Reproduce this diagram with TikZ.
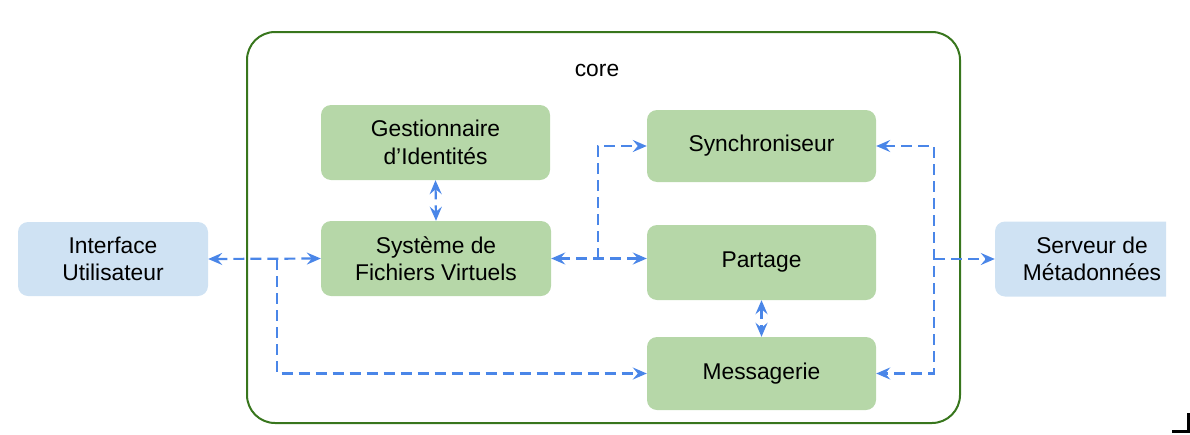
\documentclass[tikz,border=0pt]{standalone}
\usepackage{fontspec}
\setmainfont{Liberation Sans}
\usetikzlibrary{arrows.meta}
\definecolor{boxgreen}{HTML}{B6D7A8}
\definecolor{boxblue}{HTML}{CFE2F3}
\definecolor{coregreen}{HTML}{38761D}
\definecolor{linkblue}{HTML}{4A86E8}
\begin{document}
\begin{tikzpicture}[x=1pt,y=-1pt,
  comp/.style={rectangle, rounded corners=10pt, fill=boxgreen, minimum width=229pt, minimum height=75pt, align=center, font=\fontsize{22.8}{27.5}\selectfont, inner sep=0pt},
  ext/.style={comp, fill=boxblue, minimum width=192pt},
  conn/.style={draw=linkblue, line width=2.2pt, dash pattern=on 11pt off 6pt, >={Stealth[length=14pt,width=12pt,inset=5pt]}},
  lbl/.style={font=\fontsize{22.8}{27.5}\selectfont, inner sep=0pt}
]
\useasboundingbox (0,0) rectangle (1190,434);
% core container
\draw[coregreen, line width=2pt, rounded corners=28pt] (247,32) rectangle (960,423);
\node[lbl] (core) at (597,70) {core};
% external nodes
\node[ext, minimum width=190pt, minimum height=74pt] (ui) at (113,259) {Interface\\Utilisateur};
\begin{scope}
\clip (0,0) rectangle (1166,434);
\node[ext, minimum width=194pt] (srv) at (1092,259) {Serveur de\\Métadonnées};
\end{scope}
% core components
\node[comp] (gest) at (435.5,142.5) {Gestionnaire\\d’Identités};
\node[comp, minimum width=230pt] (sfv) at (436,258.5) {Système de\\Fichiers Virtuels};
\node[comp, minimum height=72pt] (sync) at (761.5,146) {Synchroniseur};
\node[comp] (part) at (761.5,262.5) {Partage};
\node[comp, minimum height=73pt] (msg) at (761.5,373.5) {Messagerie};
% junction coordinates
\coordinate (jl) at (277,259);
\coordinate (jm) at (598,259);
\coordinate (jr) at (934,259);
% connectors
\draw[conn, <->] (ui.east) -- (sfv.west);
\draw[conn, ->] (jl) |- (msg.west);
\draw[conn, <->] (sfv.east) -- (part.west |- sfv.east);
\draw[conn, ->] (jm) |- (sync.west);
\draw[conn, <->] (gest.south) -- (sfv.north);
\draw[conn, <->] (part.south) -- (msg.north);
\draw[conn, <->] (sync.east) -- (sync.east -| jr) |- (msg.east);
\draw[conn, ->] (jr) -- (srv.west);
% corner mark
\draw[black, line width=3pt] (1172,431) -- (1188.5,431) -- (1188.5,413);
\end{tikzpicture}
\end{document}
